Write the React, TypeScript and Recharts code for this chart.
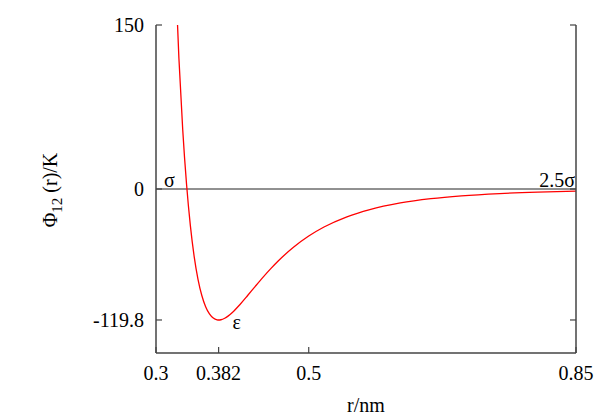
import React from "react";
import {
  LineChart,
  Line,
  XAxis,
  YAxis,
  ReferenceLine,
  ReferenceDot,
} from "recharts";

// r in nm
const rValues = [
  0.32, 0.325, 0.33, 0.335, 0.34, 0.345, 0.35, 0.355, 0.36, 0.365, 0.37,
  0.375, 0.38, 0.3822, 0.385, 0.39, 0.4, 0.41, 0.42, 0.43, 0.44, 0.45, 0.46,
  0.48, 0.5, 0.52, 0.55, 0.58, 0.62, 0.66, 0.7, 0.75, 0.8, 0.85,
];
// potential in K
const phiValues = [
  314.0, 204.4, 119.6, 54.2, 4.28, -33.55, -61.83, -82.6, -97.45, -107.67,
  -114.27, -118.05, -119.65, -119.8, -119.58, -118.24, -112.95, -105.64,
  -97.43, -89.02, -80.81, -73.06, -65.86, -53.28, -43.03, -34.8, -25.47,
  -18.82, -12.79, -8.87, -6.26, -4.16, -2.83, -1.97,
];

const xTicks = [0.3, 0.382, 0.5, 0.85];
const xTickLabels = ["0.3", "0.382", "0.5", "0.85"];
const yTicks = [-119.8, 0, 150];
const yTickLabels = ["-119.8", "0", "150"];
const xDomain = [0.3, 0.85];
const yDomain = [-150, 150];

const epsilonR = 0.382;
const epsilonPhi = -119.8;

const data = rValues.map((r, i) => ({ r, phi: phiValues[i] }));

const FONT = "'Liberation Serif', 'Times New Roman', 'DejaVu Serif', serif";
const FS = 20;
const FRAME = "#444";
const txt = { fontFamily: FONT, fontSize: FS } as React.CSSProperties;

const labelFor = (v: number, ticks: number[], labels: string[]) => {
  const i = ticks.findIndex((t) => Math.abs(t - v) < 1e-9);
  return i >= 0 ? labels[i] : String(v);
};

const BottomTick = (props: any) => {
  const { x, y, payload } = props;
  return (
    <g>
      <line x1={x} y1={y} x2={x} y2={y - 6} stroke={FRAME} strokeWidth={1.2} />
      <text x={x} y={y + 27} textAnchor="middle" style={txt} fill="#000">
        {labelFor(payload.value, xTicks, xTickLabels)}
      </text>
    </g>
  );
};

const TopTick = (props: any) => {
  const { x, y } = props;
  return <line x1={x} y1={y} x2={x} y2={y + 6} stroke={FRAME} strokeWidth={1.2} />;
};

const LeftTick = (props: any) => {
  const { x, y, payload } = props;
  return (
    <g>
      <line x1={x} y1={y} x2={x + 6} y2={y} stroke={FRAME} strokeWidth={1.2} />
      <text x={x - 12} y={y + 7} textAnchor="end" style={txt} fill="#000">
        {labelFor(payload.value, yTicks, yTickLabels)}
      </text>
    </g>
  );
};

const RightTick = (props: any) => {
  const { x, y } = props;
  return <line x1={x} y1={y} x2={x - 6} y2={y} stroke={FRAME} strokeWidth={1.2} />;
};

const YLabel = (props: any) => {
  const vb = props.viewBox || {};
  const cy = (vb.y ?? 25) + (vb.height ?? 328) / 2;
  return (
    <text
      transform={`translate(57, ${cy + 1}) rotate(-90)`}
      textAnchor="middle"
      style={txt}
      fill="#000"
    >
      <tspan>Φ</tspan>
      <tspan style={{ fontSize: 15 }} dy={5}>12</tspan>
      <tspan dy={-5}> (r)/K</tspan>
    </text>
  );
};

const XLabel = (props: any) => {
  const vb = props.viewBox || {};
  const cx = (vb.x ?? 156) + (vb.width ?? 420) / 2;
  return (
    <text x={cx} y={412} textAnchor="middle" style={txt} fill="#000">
      r/nm
    </text>
  );
};

const ZeroLabels = (props: any) => {
  const vb = props.viewBox || {};
  const x = vb.x ?? 156;
  const y = vb.y ?? 188;
  const w = vb.width ?? 420;
  return (
    <g>
      <text x={x + 8} y={y - 2} style={txt} fill="#000">
        σ
      </text>
      <text x={x + w - 1} y={y - 2} textAnchor="end" style={txt} fill="#000">
        2.5σ
      </text>
    </g>
  );
};

const EpsLabel = (props: any) => {
  const vb = props.viewBox || {};
  const cx = (vb.x ?? 218) + (vb.width ?? 0) / 2;
  const cy = (vb.y ?? 320) + (vb.height ?? 0) / 2;
  return (
    <text x={cx + 14} y={cy + 9} style={txt} fill="#000">
      ε
    </text>
  );
};

export default function App() {
  return (
    <div style={{ position: "absolute", left: 0, top: 0, width: 600, height: 420, background: "#fff" }}>
      <LineChart
        width={600}
        height={420}
        data={data}
        margin={{ top: 25, right: 0, left: 0, bottom: 0 }}
      >
        <XAxis
          xAxisId="bottom"
          dataKey="r"
          type="number"
          domain={xDomain}
          ticks={xTicks}
          orientation="bottom"
          height={67}
          tickSize={0}
          tickMargin={0}
          tickLine={false}
          axisLine={{ stroke: FRAME, strokeWidth: 1.5 }}
          tick={<BottomTick />}
          interval={0}
          allowDataOverflow
          label={{ content: <XLabel /> }}
        />
        <XAxis
          xAxisId="top"
          dataKey="r"
          type="number"
          domain={xDomain}
          ticks={xTicks}
          orientation="top"
          height={0}
          tickSize={0}
          tickMargin={0}
          tickLine={false}
          axisLine={{ stroke: FRAME, strokeWidth: 1.5 }}
          tick={<TopTick />}
          interval={0}
          allowDataOverflow
        />
        <YAxis
          yAxisId="left"
          type="number"
          domain={yDomain}
          ticks={yTicks}
          orientation="left"
          width={156}
          tickSize={0}
          tickMargin={0}
          tickLine={false}
          axisLine={{ stroke: FRAME, strokeWidth: 1.5 }}
          tick={<LeftTick />}
          interval={0}
          allowDataOverflow
          label={{ content: <YLabel /> }}
        />
        <YAxis
          yAxisId="right"
          type="number"
          domain={yDomain}
          ticks={yTicks}
          orientation="right"
          width={24}
          tickSize={0}
          tickMargin={0}
          tickLine={false}
          axisLine={{ stroke: FRAME, strokeWidth: 1.5 }}
          tick={<RightTick />}
          interval={0}
          allowDataOverflow
        />
        <ReferenceLine
          xAxisId="bottom"
          yAxisId="left"
          y={0}
          stroke="#222"
          strokeWidth={1}
          label={{ content: <ZeroLabels /> }}
        />
        <ReferenceDot
          xAxisId="bottom"
          yAxisId="left"
          x={epsilonR}
          y={epsilonPhi}
          r={1}
          fill="none"
          stroke="none"
          label={{ content: <EpsLabel /> }}
        />
        <Line
          xAxisId="bottom"
          yAxisId="left"
          dataKey="phi"
          type="monotone"
          stroke="#ff0000"
          strokeWidth={1.3}
          dot={false}
          isAnimationActive={false}
        />
      </LineChart>
    </div>
  );
}
